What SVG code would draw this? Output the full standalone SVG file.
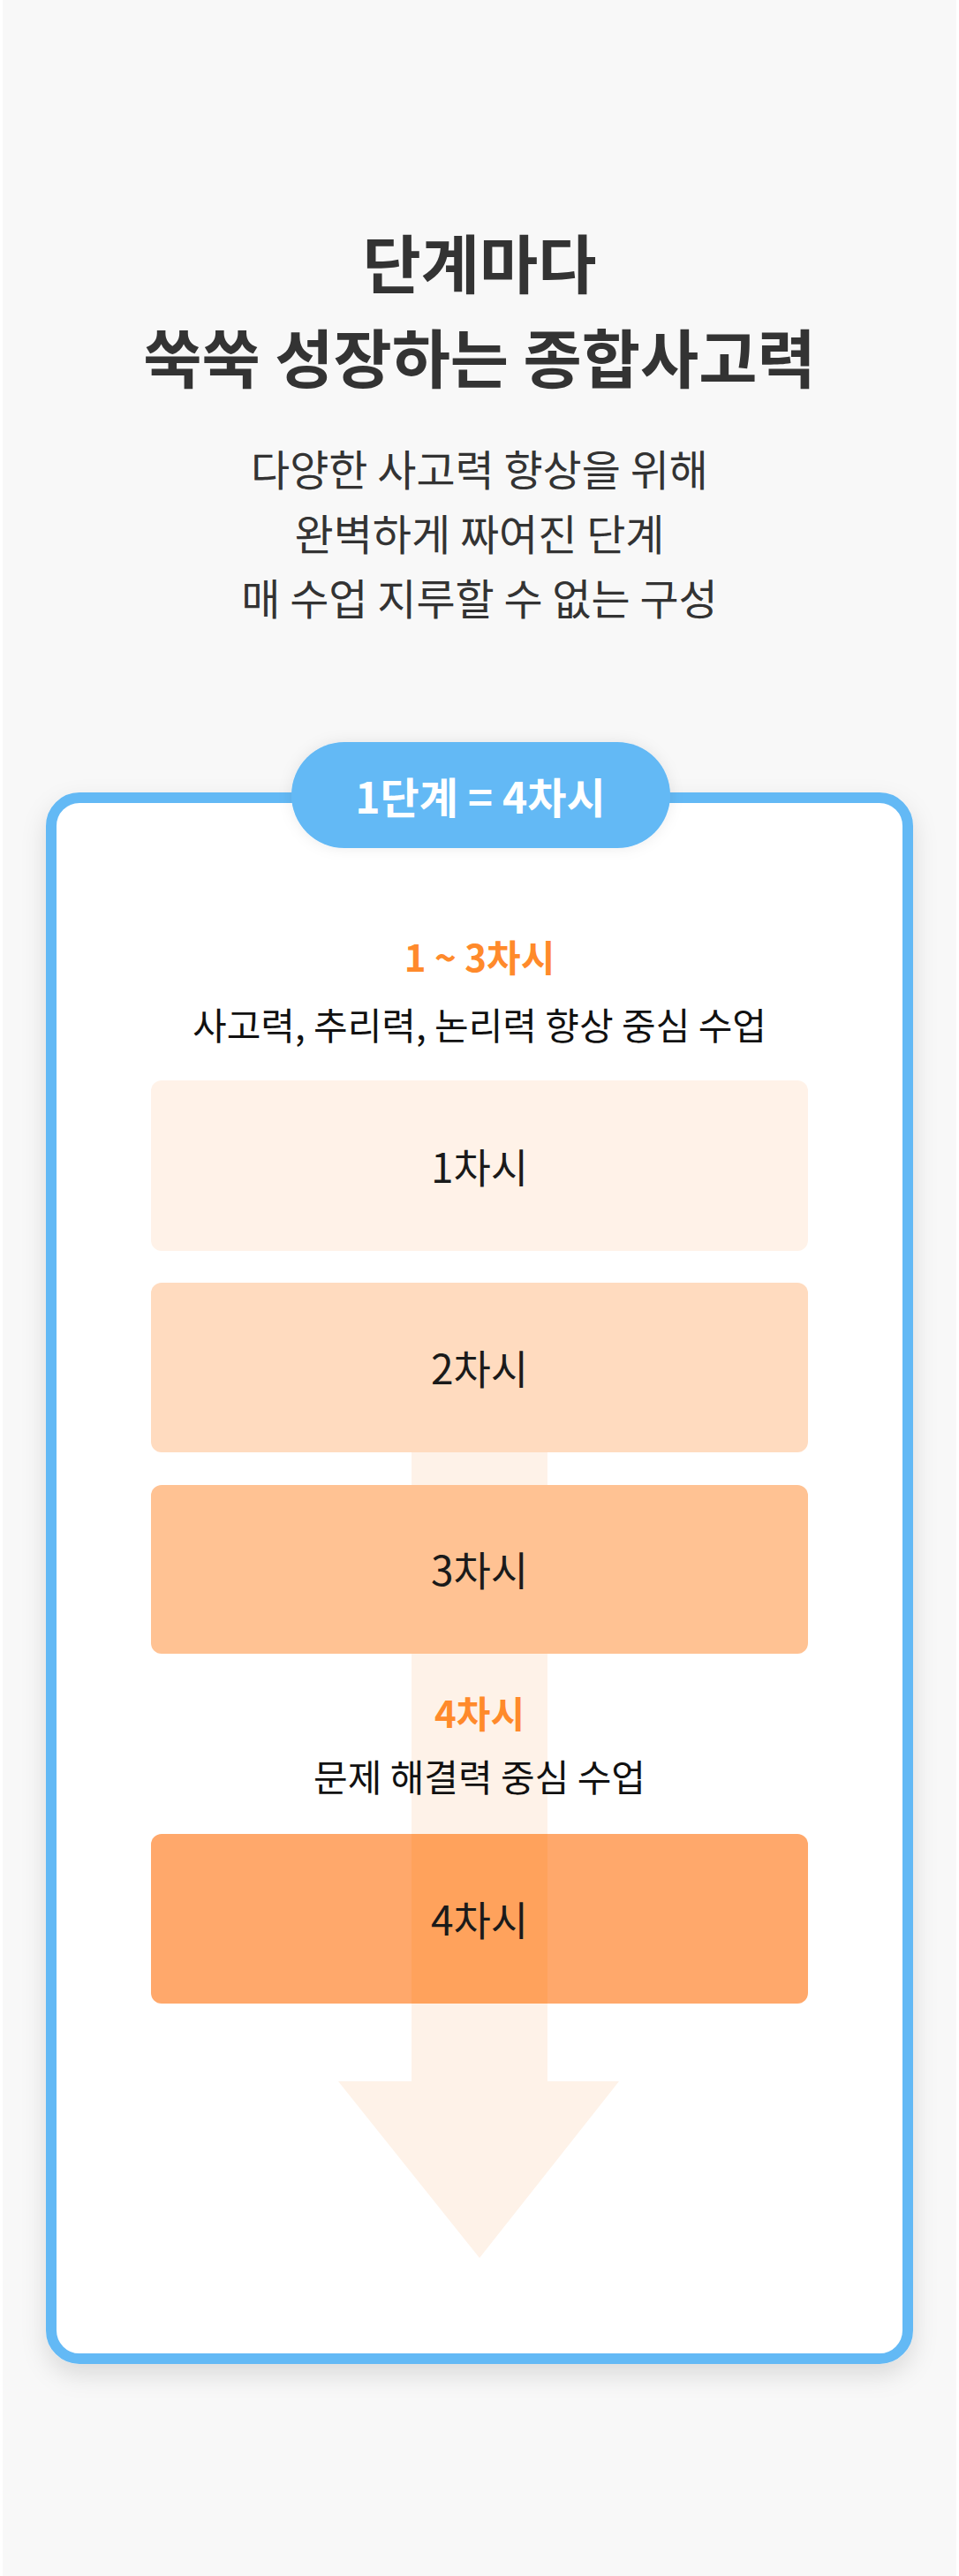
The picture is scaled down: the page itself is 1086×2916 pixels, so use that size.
<svg xmlns="http://www.w3.org/2000/svg" width="1086" height="2916" viewBox="0 0 1086 2916">
<defs>
<style>
text{font-family:"Noto Sans CJK KR","Noto Sans",sans-serif;text-anchor:middle}
.title{font-size:72px;font-weight:700;fill:#333}
.sub{font-size:48px;font-weight:400;fill:#333}
.pill{font-size:48px;font-weight:700;fill:#fff}
.head{font-size:42px;font-weight:700;fill:#FF8A2B}
.desc{font-size:42px;font-weight:400;fill:#111}
.lbl{font-size:46px;font-weight:400;fill:#1a1a1a}
.box{stroke:none}
</style>
<filter id="cardShadow" x="-10%" y="-10%" width="120%" height="120%">
<feDropShadow dx="0" dy="12" stdDeviation="14" flood-color="#000" flood-opacity="0.12"/>
</filter>
<filter id="pillShadow" x="-20%" y="-40%" width="140%" height="180%">
<feDropShadow dx="0" dy="0" stdDeviation="8" flood-color="#000" flood-opacity="0.08"/>
</filter>
</defs>
<rect width="1086" height="2916" fill="#F8F8F8"/>
<rect x="0" y="0" width="3" height="2916" fill="#fff"/>
<rect x="1083" y="0" width="3" height="2916" fill="#fff"/>

<g id="title">
<text class="title" x="543" y="326">단계마다</text>
<text class="title" x="543" y="433">쑥쑥 성장하는 종합사고력</text>
</g>
<g id="subtitle">
<text class="sub" x="543" y="550">다양한 사고력 향상을 위해</text>
<text class="sub" x="543" y="623">완벽하게 짜여진 단계</text>
<text class="sub" x="543" y="696">매 수업 지루할 수 없는 구성</text>
</g>

<g id="card">
<rect x="58" y="903" width="970" height="1767" rx="32" fill="#fff" stroke="#64B9F5" stroke-width="12" filter="url(#cardShadow)"/>
</g>

<g id="connectors">
<rect x="466" y="1500" width="154" height="857" fill="#FEF2E8"/>
<polygon points="383,2356 701,2356 543,2556" fill="#FEF2E8"/>
</g>

<g id="pill">
<rect x="330" y="840" width="429" height="120" rx="60" fill="#64B9F5" filter="url(#pillShadow)"/>
<text class="pill" x="544" y="921">1단계 = 4차시</text>
</g>

<g id="group1">
<text class="head" x="543" y="1100">1 ~ 3차시</text>
<text class="desc" x="543" y="1177">사고력, 추리력, 논리력 향상 중심 수업</text>
</g>

<g id="box1">
<rect class="box" x="171" y="1223" width="744" height="193" rx="12" fill="#FFF2E8"/>
<text class="lbl" x="543" y="1339">1차시</text>
</g>
<g id="box2">
<rect class="box" x="171" y="1452" width="744" height="192" rx="12" fill="#FFDBBF"/>
<text class="lbl" x="543" y="1567">2차시</text>
</g>
<g id="box3">
<rect class="box" x="171" y="1681" width="744" height="191" rx="12" fill="#FFC293"/>
<text class="lbl" x="543" y="1795">3차시</text>
</g>

<g id="group2">
<text class="head" x="543" y="1956">4차시</text>
<text class="desc" x="543" y="2028">문제 해결력 중심 수업</text>
</g>

<g id="box4">
<rect class="box" x="171" y="2076" width="744" height="192" rx="12" fill="#FFA86B"/>
<rect x="466" y="2076" width="154" height="192" fill="#FF8C28" fill-opacity="0.21"/>
<text class="lbl" x="543" y="2191">4차시</text>
</g>
</svg>
